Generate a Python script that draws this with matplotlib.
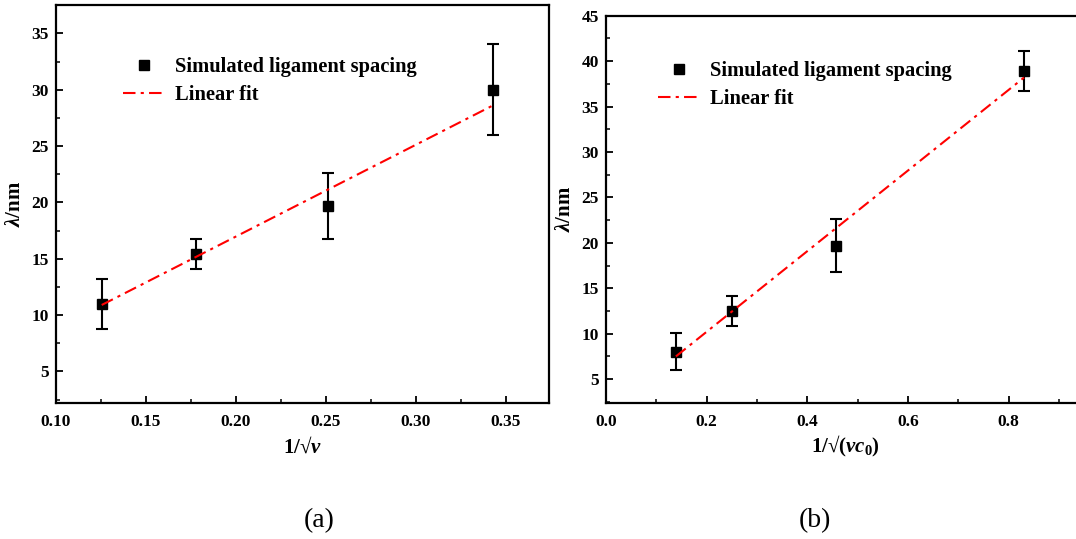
import numpy as np
import matplotlib
matplotlib.use('Agg')
import matplotlib.pyplot as plt

plt.rcParams['font.family'] = ['Liberation Serif', 'DejaVu Serif']
plt.rcParams['font.weight'] = 'bold'
plt.rcParams['mathtext.fontset'] = 'custom'
plt.rcParams['mathtext.rm'] = 'Liberation Serif:bold'
plt.rcParams['mathtext.it'] = 'Liberation Serif:italic:bold'
plt.rcParams['mathtext.bf'] = 'Liberation Serif:bold'

# (a) spacing vs 1/sqrt(v)
xa = [0.1254, 0.1776, 0.2510, 0.3427]
ya = [11.0, 15.4, 19.7, 30.0]
ea = [2.2, 1.35, 2.95, 4.05]
fit_xa = [0.1254, 0.3427]
fit_ya = [10.9, 28.6]

# (b) spacing vs 1/sqrt(v c0)
xb = [0.139, 0.250, 0.458, 0.831]
yb = [8.0, 12.5, 19.7, 38.9]
eb = [2.05, 1.7, 2.95, 2.2]
fit_xb = [0.139, 0.831]
fit_yb = [7.5, 38.2]

W, H = 1076, 539
fig = plt.figure(figsize=(W / 100, H / 100), dpi=100)


def style_axes(ax):
    for sp in ax.spines.values():
        sp.set_linewidth(1.6)
    ax.tick_params(axis='both', which='major', direction='in', length=5, width=1.3,
                   labelsize=12.5, top=False, right=False)
    ax.tick_params(axis='x', which='major', pad=8)
    ax.tick_params(axis='y', which='major', pad=5)
    ax.tick_params(axis='both', which='minor', direction='in', length=3, width=1.1,
                   top=False, right=False)
    for lab in ax.get_xticklabels() + ax.get_yticklabels():
        lab.set_fontweight('bold')


def draw(ax, x, y, e, fx, fy):
    ax.errorbar(x, y, yerr=e, fmt='none', ecolor='black', elinewidth=1.5,
                capsize=4.5, capthick=1.5, zorder=3)
    ax.plot(x, y, 's', color='black', markersize=7, linestyle='none',
            label='Simulated ligament spacing', zorder=4)
    ax.plot(fx, fy, color='red', lw=1.5, linestyle=(0, (6, 2.5, 1.5, 2.5)),
            label='Linear fit', zorder=5)


leg_kw = dict(loc='upper left', frameon=False, prop={'size': 14.8, 'weight': 'bold'},
              handlelength=2.1, handletextpad=0.45, labelspacing=0.38,
              borderpad=0, borderaxespad=0)

# left panel
axa = fig.add_axes([56 / W, 1 - 403 / H, (549 - 56) / W, (403 - 5.3) / H])
draw(axa, xa, ya, ea, fit_xa, fit_ya)
axa.set_xlim(0.10, 0.374)
axa.set_ylim(2.2, 37.5)
axa.set_xticks(np.arange(0.10, 0.36, 0.05))
axa.set_xticks(np.arange(0.125, 0.37, 0.05), minor=True)
axa.set_yticks(np.arange(5, 36, 5))
axa.set_yticks(np.arange(2.5, 37.6, 5), minor=True)
axa.xaxis.set_major_formatter(matplotlib.ticker.FormatStrFormatter('%.2f'))
style_axes(axa)
axa.set_xlabel('1/√$\\mathit{v}$', fontsize=15, fontweight='bold', labelpad=5)
axa.set_ylabel('$\\mathit{\\lambda}$/nm', fontsize=15, fontweight='bold', labelpad=5)
axa.legend(bbox_to_anchor=(0.135, 0.870), **leg_kw)

# right panel (runs off the right edge like the original)
axb = fig.add_axes([606 / W, 1 - 402.7 / H, 478 / W, (402.7 - 15.7) / H])
draw(axb, xb, yb, eb, fit_xb, fit_yb)
axb.set_xlim(0.0, 0.95)
axb.set_ylim(2.4, 45)
axb.set_xticks(np.arange(0.0, 0.81, 0.2))
axb.set_xticks(np.arange(0.1, 0.95, 0.2), minor=True)
axb.set_yticks(np.arange(5, 46, 5))
axb.set_yticks(np.arange(2.5, 45, 5), minor=True)
axb.xaxis.set_major_formatter(matplotlib.ticker.FormatStrFormatter('%.1f'))
style_axes(axb)
axb.set_xlabel('1/√$(\\mathit{vc}_0)$', fontsize=15, fontweight='bold', labelpad=3)
axb.set_ylabel('$\\mathit{\\lambda}$/nm', fontsize=15, fontweight='bold', labelpad=5)
axb.legend(bbox_to_anchor=(0.108, 0.883), **leg_kw)

fig.text(319 / W, 1 - 521 / H, '(a)', fontsize=20, fontweight='normal',
         ha='center', va='center')
fig.text(815 / W, 1 - 521 / H, '(b)', fontsize=20, fontweight='normal',
         ha='center', va='center')

fig.savefig('out.png', dpi=100)
